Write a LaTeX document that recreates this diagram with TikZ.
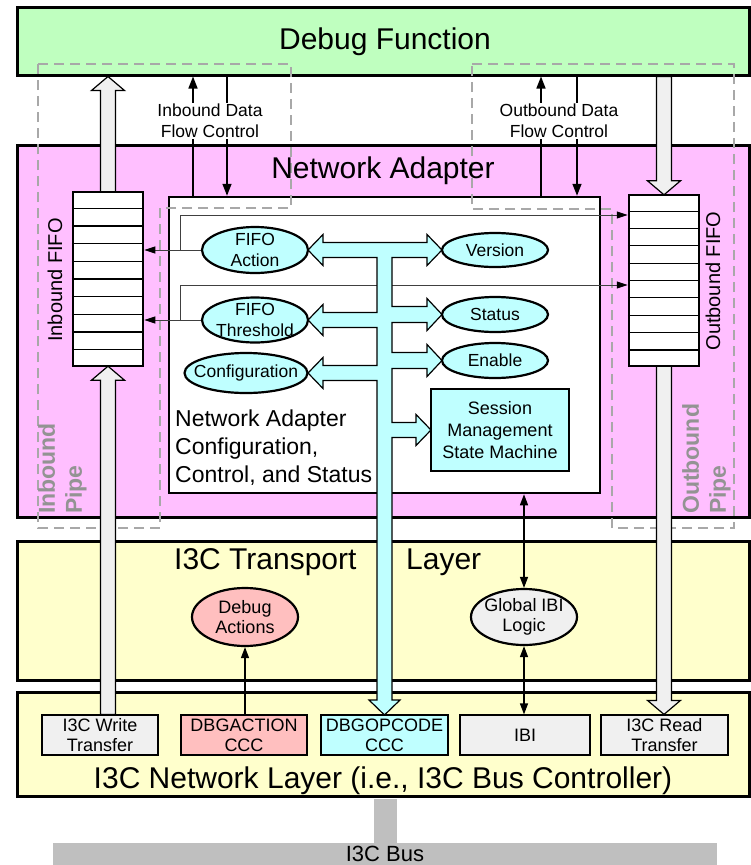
\documentclass[tikz,border=0pt]{standalone}
\usepackage{fontspec}
\setmainfont{Liberation Sans}
\usetikzlibrary{arrows.meta,shapes.geometric,calc}

\definecolor{dfgreen}{HTML}{BFFFBF}
\definecolor{napink}{HTML}{FFBFFF}
\definecolor{tieryellow}{HTML}{FFFFCC}
\definecolor{buscyan}{HTML}{BFFFFF}
\definecolor{actred}{HTML}{FFBFBF}
\definecolor{lightfill}{HTML}{F0F0F0}
\definecolor{busgray}{HTML}{BFBFBF}
\definecolor{dashgray}{HTML}{A8A8A8}
\definecolor{pipetext}{HTML}{939393}
\definecolor{wiregray}{HTML}{404040}

\newcommand\fs[2]{\fontsize{#1}{#2}\selectfont}

% wide hollow data-path arrows (vertical): #1 start, #2 tip
\newcommand\hollowup[2]{\draw[hollowarrow] let \p1=(#1), \p2=(#2) in
  (\x2-7.5pt,\y1) -- (\x2-7.5pt,\y2-14pt) -- (\x2-16.5pt,\y2-14pt) -- (\x2,\y2)
  -- (\x2+16.5pt,\y2-14pt) -- (\x2+7.5pt,\y2-14pt) -- (\x2+7.5pt,\y1) -- cycle;}
\newcommand\hollowdown[2]{\draw[hollowarrow] let \p1=(#1), \p2=(#2) in
  (\x2-7.5pt,\y1) -- (\x2-7.5pt,\y2+14pt) -- (\x2-16.5pt,\y2+14pt) -- (\x2,\y2)
  -- (\x2+16.5pt,\y2+14pt) -- (\x2+7.5pt,\y2+14pt) -- (\x2+7.5pt,\y1) -- cycle;}

\begin{document}
\begin{tikzpicture}[x=1pt,y=-1pt,
  tierbox/.style={draw, line width=3pt, minimum width=732pt, inner sep=0pt},
  fifobox/.style={draw, line width=2.5pt, fill=white, minimum width=70pt, inner sep=0pt},
  ovalnode/.style={ellipse, draw, line width=2.2pt, fill=buscyan, inner sep=0pt},
  lbl/.style={font=\fs{17.5}{21}, align=center, inner sep=0pt},
  smallbox/.style={draw, line width=1.2pt, minimum height=40pt, inner sep=0pt,
    font=\fs{18}{20}, align=center},
  flowarrow/.style={line width=1.5pt, -{Triangle[length=12pt,width=9pt]}},
  wirearrow/.style={draw=wiregray, line width=1pt,
    -{Triangle[length=11pt,width=7pt,black]}},
  onearrow/.style={line width=1.3pt, -{Triangle[length=11pt,width=8pt]}},
  twoarrow/.style={line width=1.3pt,
    {Triangle[length=11pt,width=8pt]}-{Triangle[length=11pt,width=8pt]}},
  pipeline/.style={draw=dashgray, line width=1.5pt, dash pattern=on 10pt off 6pt},
  hollowarrow/.style={draw, line width=1.2pt, fill=lightfill, line join=miter},
  pipelabel/.style={text=pipetext, font=\bfseries\fs{23}{27}, align=left,
    rotate=90, inner sep=0pt, anchor=north west},
  title/.style={font=\fs{30}{36}, inner sep=0pt}]

\useasboundingbox (0,0) rectangle (751,865);

% ---- I3C bus and its stub ----
\node[fill=busgray, minimum width=664pt, minimum height=22pt, inner sep=0pt,
  font=\fs{22}{26}] (bus) at (385,854) {I3C Bus};

% ---- layer boxes ----
\node[tierbox, fill=dfgreen, minimum height=68pt] (dbg) at (383,41) {};
\node[tierbox, fill=napink, minimum height=372pt] (na) at (383,331) {};
\node[tierbox, fill=tieryellow, minimum height=139pt] (tl) at (383,610.5) {};
\node[tierbox, fill=tieryellow, minimum height=104pt] (nl) at (383,744) {};
\fill[busgray] ($(bus.north |- nl.south)+(-11.5,1.5)$) rectangle ($(bus.north)+(11.5,0)$);

% ---- configuration / control / status block ----
\node[draw, line width=2.5pt, fill=white, minimum width=431pt, minimum height=296pt,
  inner sep=0pt] (cfg) at (384.5,345) {};

% ---- inbound / outbound pipe outlines ----
\draw[pipeline] (38,64) -- (291,64) -- (291,208) -- (160,208) -- (160,528) -- (38,528) -- cycle;
\draw[pipeline] (472,64) -- (734,64) -- (734,528) -- (612,528) -- (612,209) -- (472,209) -- cycle;

% ---- network layer transfer boxes ----
\node[smallbox, fill=lightfill, minimum width=116pt] (wr) at (100,735) {I3C Write\\Transfer};
\node[smallbox, fill=actred, minimum width=126pt] (dba) at (244,735) {DBGACTION\\CCC};
\node[smallbox, fill=buscyan, minimum width=127pt] (dbo) at (384.5,735) {DBGOPCODE\\CCC};
\node[smallbox, fill=lightfill, minimum width=130pt] (ibi) at (525,735) {IBI};
\node[smallbox, fill=lightfill, minimum width=127pt] (rd) at (664.5,735) {I3C Read\\Transfer};

% ---- FIFO positions (drawn after the data arrows) ----
\path (108,279) coordinate (infifoc) (664,280.5) coordinate (outfifoc);
\node[minimum width=70pt, minimum height=174pt, inner sep=0pt] (infifo) at (infifoc) {};
\node[minimum width=70pt, minimum height=171pt, inner sep=0pt] (outfifo) at (outfifoc) {};

% ---- wide data arrows ----
\hollowup{infifo.south |- wr.north}{infifo.south}
\hollowup{infifo.north}{infifo.north |- dbg.south}
\hollowdown{outfifo.north |- dbg.south}{outfifo.north}
\hollowdown{outfifo.south}{outfifo.south |- rd.north}

% ---- FIFOs ----
\node[fifobox, minimum height=174pt] (infifobox) at (infifoc) {};
\node[fifobox, minimum height=171pt] (outfifobox) at (outfifoc) {};
\foreach \f in {infifobox,outfifobox}
  \foreach \i in {1,...,9}
    \draw[line width=1.2pt] ($(\f.north west)!\i/10!(\f.south west)$)
      -- ($(\f.north east)!\i/10!(\f.south east)$);
\node[rotate=90, font=\fs{20}{24}, inner sep=0pt] (infifolbl) at (55,280) {Inbound FIFO};
\node[rotate=90, font=\fs{20}{24}, inner sep=0pt] (outfifolbl) at (713,281) {Outbound FIFO};

% ---- register ellipses ----
\node[ovalnode, minimum width=106pt, minimum height=46pt,
  label={[lbl]center:{FIFO\\Action}}] (fa) at (255,250) {};
\node[ovalnode, minimum width=106pt, minimum height=45pt,
  label={[lbl]center:{FIFO\\Threshold}}] (ft) at (255,320) {};
\node[ovalnode, minimum width=123pt, minimum height=40pt,
  label={[lbl]center:Configuration}] (cf) at (246,373) {};
\node[ovalnode, minimum width=106pt, minimum height=34pt,
  label={[lbl]center:Version}] (ver) at (495,250) {};
\node[ovalnode, minimum width=106pt, minimum height=35pt,
  label={[lbl]center:Status}] (st) at (495,314.5) {};
\node[ovalnode, minimum width=106pt, minimum height=35pt,
  label={[lbl]center:Enable}] (en) at (495,360.5) {};

% ---- FIFO control wires ----
\path (180,0) coordinate (jx) (0,215) coordinate (wa) (0,285) coordinate (wb);
\draw[wirearrow] (fa.west) -- (fa.west -| infifobox.east);
\draw[wirearrow] (jx |- fa.west) |- (outfifobox.west |- wa);
\draw[wirearrow] (ft.west) -- (ft.west -| infifobox.east);
\draw[wirearrow] (jx |- ft.west) |- (outfifobox.west |- wb);

% ---- DBGOPCODE register bus ----
\draw[line width=1.2pt, fill=buscyan, line join=miter]
  (308,250) -- (323,234.5) -- (323,242.5) -- (427,242.5) -- (427,234.5) -- (442,250)
  -- (427,265.5) -- (427,257.5) -- (392,257.5)
  -- (392,306.5) -- (427,306.5) -- (427,298.5) -- (442,314.5) -- (427,330.5) -- (427,322.5) -- (392,322.5)
  -- (392,352.5) -- (427,352.5) -- (427,344.5) -- (442,360.5) -- (427,376.5) -- (427,368.5) -- (392,368.5)
  -- (392,422.5) -- (416,422.5) -- (416,414.5) -- (431,430) -- (416,445.5) -- (416,437.5) -- (392,437.5)
  -- (392,700) -- (400,700) -- (384.5,715) -- (369,700) -- (377,700)
  -- (377,380.5) -- (323,380.5) -- (323,388.5) -- (308,373) -- (323,357.5) -- (323,365.5) -- (377,365.5)
  -- (377,327.5) -- (323,327.5) -- (323,335.5) -- (308,320) -- (323,304.5) -- (323,312.5) -- (377,312.5)
  -- (377,257.5) -- (323,257.5) -- (323,265.5) -- cycle;

\node[draw, line width=2.5pt, fill=buscyan, minimum width=138pt, minimum height=82pt,
  inner sep=0pt, align=center, font=\fs{18}{22}] (sm) at (500,430)
  {Session\\Management\\State Machine};

\node[anchor=north west, align=left, font=\fs{23}{28}, inner sep=0pt] (cfgtxt)
  at (175,410) {Network Adapter\\Configuration,\\Control, and Status};

% ---- data flow control handshakes ----
\path (193,0) coordinate (ibu) (227,0) coordinate (ibd)
      (541,0) coordinate (obu) (577,0) coordinate (obd);
\draw[flowarrow] (ibu |- cfg.north) -- (ibu |- dbg.south);
\draw[flowarrow] (ibd |- dbg.south) -- (ibd |- cfg.north);
\draw[flowarrow] (obu |- cfg.north) -- (obu |- dbg.south);
\draw[flowarrow] (obd |- dbg.south) -- (obd |- cfg.north);
\node[fill=white, inner sep=1pt, align=center, font=\fs{17.5}{21}] (iblbl) at (210,121)
  {Inbound Data\\Flow Control};
\node[fill=white, inner sep=1pt, align=center, font=\fs{17.5}{21}] (oblbl) at (559,121)
  {Outbound Data\\Flow Control};

% ---- transport layer blocks ----
\node[ellipse, draw, line width=2.2pt, fill=actred, minimum width=106pt, minimum height=58pt,
  inner sep=0pt, label={[font=\fs{18}{20}, align=center, inner sep=0pt]center:{Debug\\Actions}}]
  (da) at (245,617) {};
\node[ellipse, draw, line width=2.2pt, fill=lightfill, minimum width=106pt, minimum height=56pt,
  inner sep=0pt, label={[font=\fs{18}{20}, align=center, inner sep=0pt]center:{Global IBI\\Logic}}]
  (gibi) at (524,617) {};
\draw[onearrow] (da.south |- dba.north) -- (da.south);
\draw[twoarrow] (gibi.north) -- (gibi.north |- cfg.south);
\draw[twoarrow] (gibi.south) -- (gibi.south |- ibi.north);

% ---- titles ----
\node[title, anchor=base] (dbgtitle) at (385,49) {Debug Function};
\node[title, anchor=base] (natitle) at (383,178) {Network Adapter};
\node[title, anchor=base west] (tltitle) at (174,569) {I3C Transport};
\node[title, anchor=base west] (tltitleb) at (406,569) {Layer};
\node[title, anchor=base] (nltitle) at (383,788) {I3C Network Layer (i.e., I3C Bus Controller)};

\node[pipelabel] (inpipelbl) at (38,514) {Inbound\\Pipe};
\node[pipelabel] (outpipelbl) at (682,514) {Outbound\\Pipe};

\end{tikzpicture}
\end{document}
